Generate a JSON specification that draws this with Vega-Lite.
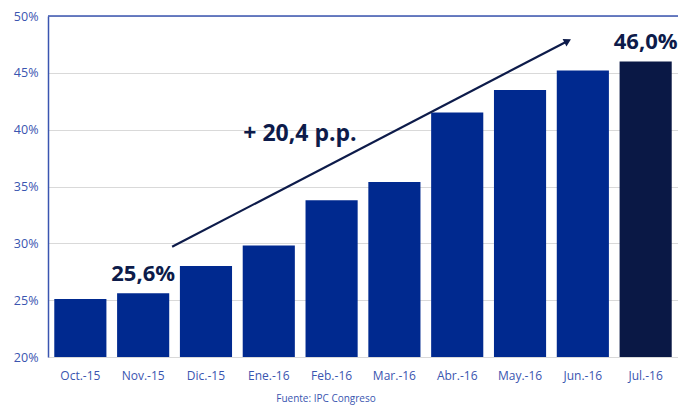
{
  "$schema": "https://vega.github.io/schema/vega-lite/v6.json",
  "width": 630,
  "height": 341,
  "autosize": {"type": "none"},
  "padding": {"left": 48, "top": 16, "right": 0, "bottom": 48},
  "background": "white",
  "config": {
    "view": {"stroke": null},
    "font": "Open Sans"
  },
  "title": {
    "text": "Fuente: IPC Congreso",
    "orient": "bottom",
    "anchor": "middle",
    "fontSize": 10,
    "fontWeight": "normal",
    "color": "#3a55b0",
    "font": "Open Sans",
    "offset": 13,
    "dx": -37
  },
  "datasets": {
    "bars": [
      {"mes": "Oct.-15", "valor": 25.1, "grupo": "a", "etiqueta": ""},
      {"mes": "Nov.-15", "valor": 25.6, "grupo": "a", "etiqueta": "25,6%"},
      {"mes": "Dic.-15", "valor": 28.0, "grupo": "a", "etiqueta": ""},
      {"mes": "Ene.-16", "valor": 29.8, "grupo": "a", "etiqueta": ""},
      {"mes": "Feb.-16", "valor": 33.8, "grupo": "a", "etiqueta": ""},
      {"mes": "Mar.-16", "valor": 35.4, "grupo": "a", "etiqueta": ""},
      {"mes": "Abr.-16", "valor": 41.5, "grupo": "a", "etiqueta": ""},
      {"mes": "May.-16", "valor": 43.5, "grupo": "a", "etiqueta": ""},
      {"mes": "Jun.-16", "valor": 45.2, "grupo": "a", "etiqueta": ""},
      {"mes": "Jul.-16", "valor": 46.0, "grupo": "b", "etiqueta": "46,0%"}
    ],
    "flecha": [
      {"px": 1.97, "py": 29.7},
      {"px": 8.25, "py": 47.8}
    ],
    "punta": [
      {"px": 8.25, "py": 47.8}
    ],
    "nota": [
      {"px": 4.0, "py": 39.6, "texto": "+ 20,4 p.p."}
    ]
  },
  "resolve": {"scale": {"x": "independent"}},
  "layer": [
    {
      "data": {"name": "bars"},
      "layer": [
        {
          "mark": {"type": "bar", "clip": true},
          "encoding": {
            "x": {
              "field": "mes",
              "type": "nominal",
              "sort": null,
              "scale": {"paddingInner": 0.17, "paddingOuter": 0.1},
              "axis": {
                "title": null,
                "labelAngle": 0,
                "labelFontSize": 12,
                "labelColor": "#3a55b0",
                "labelPadding": 13,
                "domain": false,
                "ticks": false
              }
            },
            "y": {
              "field": "valor",
              "type": "quantitative",
              "scale": {"domain": [20, 50], "zero": false, "nice": false},
              "axis": {
                "title": null,
                "values": [20, 25, 30, 35, 40, 45, 50],
                "labelExpr": "datum.value + '%'",
                "labelFontSize": 12.5,
                "labelColor": "#3a55b0",
                "labelPadding": 10,
                "ticks": false,
                "domainColor": "#3a55b0",
                "domainWidth": 1.5,
                "gridColor": "#d9d9d9",
                "gridWidth": 1
              }
            },
            "color": {
              "field": "grupo",
              "type": "nominal",
              "scale": {"domain": ["a", "b"], "range": ["#00298f", "#0a1845"]},
              "legend": null
            }
          }
        },
        {
          "mark": {"type": "text", "baseline": "bottom", "dy": -7, "fontSize": 22, "fontWeight": "bold", "color": "#0d1b4a", "font": "Open Sans"},
          "encoding": {
            "x": {"field": "mes", "type": "nominal", "sort": null},
            "y": {"field": "valor", "type": "quantitative"},
            "text": {"field": "etiqueta"}
          }
        }
      ]
    },
    {
      "layer": [
        {
          "data": {"values": [{"v": 50}]},
          "mark": {"type": "rule", "color": "#3a55b0", "strokeWidth": 1.5},
          "encoding": {"y": {"field": "v", "type": "quantitative"}}
        },
        {
          "data": {"name": "flecha"},
          "mark": {"type": "line", "color": "#0d1b4a", "strokeWidth": 2.2},
          "encoding": {
            "x": {"field": "px", "type": "quantitative", "scale": {"domain": [0, 10]}, "axis": null},
            "y": {"field": "py", "type": "quantitative"}
          }
        },
        {
          "data": {"name": "punta"},
          "mark": {"type": "point", "shape": "triangle-right", "filled": true, "size": 70, "angle": -27.5, "color": "#0d1b4a", "opacity": 1},
          "encoding": {
            "x": {"field": "px", "type": "quantitative", "scale": {"domain": [0, 10]}, "axis": null},
            "y": {"field": "py", "type": "quantitative"}
          }
        },
        {
          "data": {"name": "nota"},
          "mark": {"type": "text", "fontSize": 23, "fontWeight": "bold", "color": "#0d1b4a", "font": "Open Sans"},
          "encoding": {
            "x": {"field": "px", "type": "quantitative", "scale": {"domain": [0, 10]}, "axis": null},
            "y": {"field": "py", "type": "quantitative"},
            "text": {"field": "texto"}
          }
        }
      ]
    }
  ]
}
